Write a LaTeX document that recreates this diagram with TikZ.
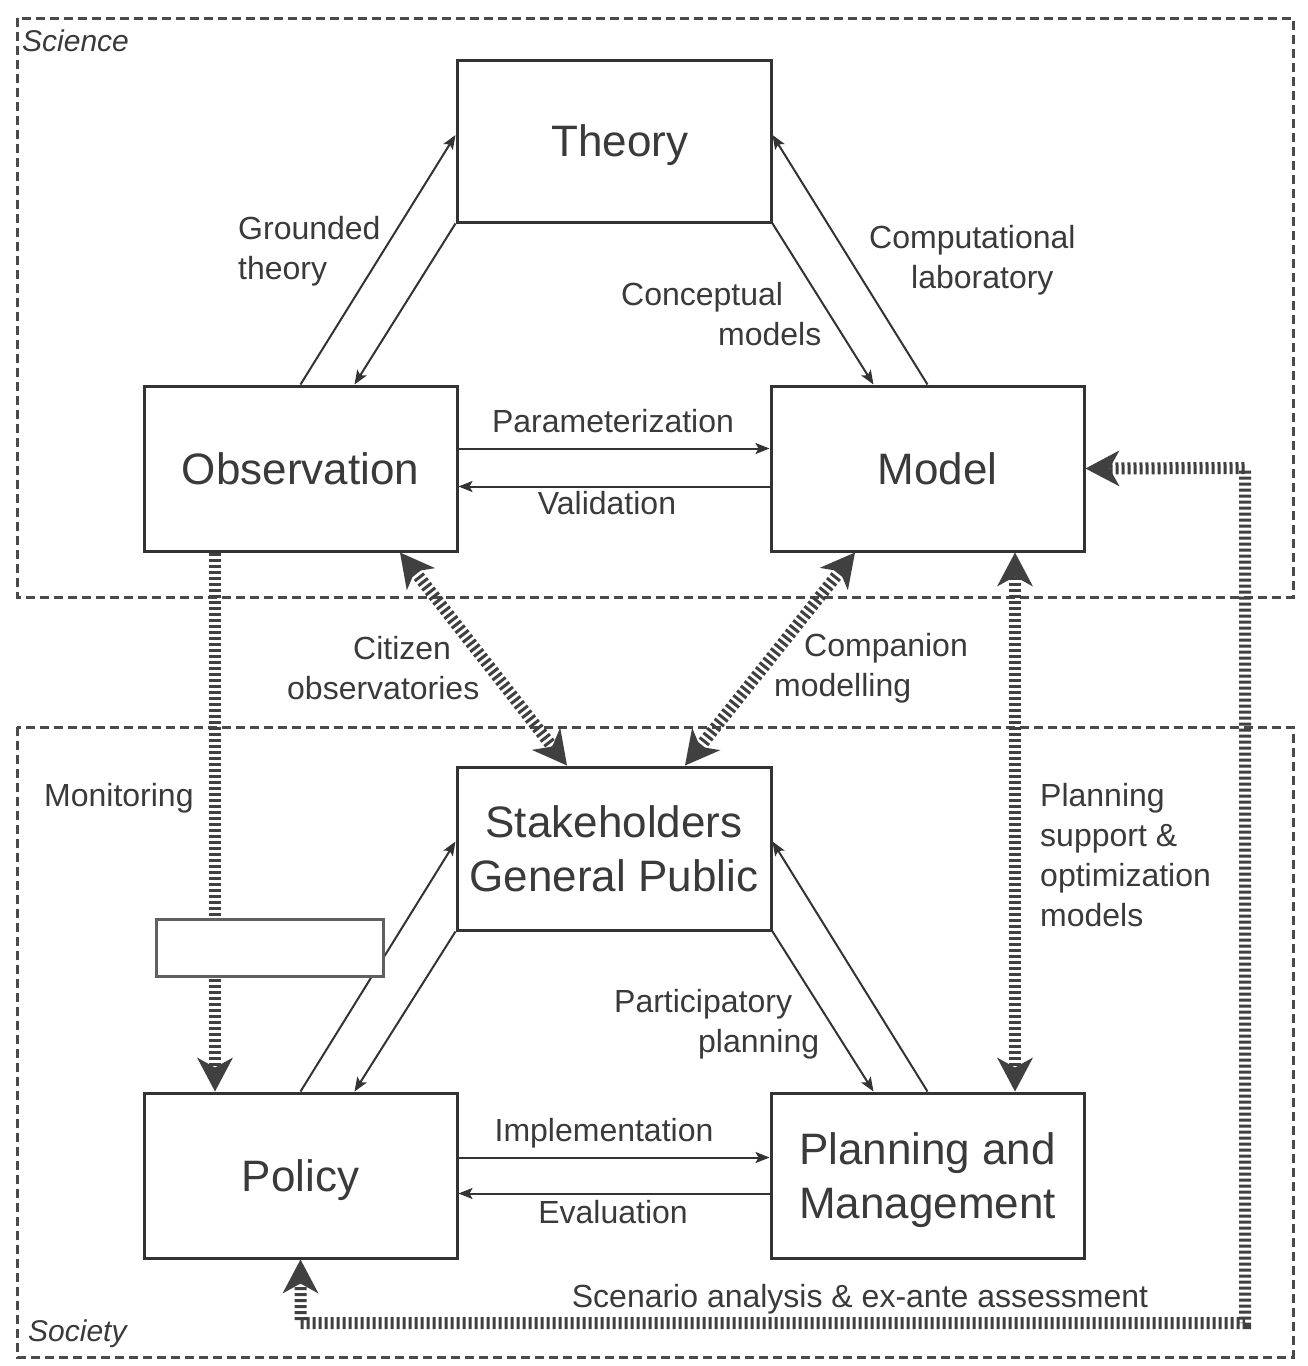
\documentclass[tikz,border=0pt]{standalone}
\usepackage{fontspec}
\setmainfont{Liberation Sans}
\usetikzlibrary{arrows.meta}
\definecolor{ink}{HTML}{333333}
\definecolor{txt}{HTML}{3A3A3A}
\definecolor{hatchc}{HTML}{404040}
\definecolor{framec}{HTML}{4A4A4A}
\definecolor{emptyc}{HTML}{606060}
\begin{document}
\begin{tikzpicture}[x=1pt,y=-1pt,
  box/.style={draw=ink, line width=3pt, fill=white, minimum width=314pt, minimum height=164pt,
    inner sep=0pt, font=\fontsize{44}{54}\selectfont, text=txt, align=center, text depth=0pt},
  lbl/.style={font=\fontsize{32}{40}\selectfont, text=txt, inner sep=0pt, align=left},
  thin/.style={draw=ink, line width=2pt, -{Stealth[length=14pt,width=11pt,inset=3pt]}},
  bigtip/.tip={Stealth[length=34pt,width=36pt,inset=10pt,line width=0pt]},
  hatch/.style={draw=hatchc, line width=12pt, dash pattern=on 3pt off 3pt},
  frame/.style={draw=framec, line width=3pt, dash pattern=on 9pt off 5pt},
  zone/.style={font=\fontsize{30}{36}\selectfont\itshape, text=txt, inner sep=0pt, anchor=north west}]
\useasboundingbox (0,0) rectangle (1308,1366);
\fill[white] (0,0) rectangle (1308,1366);

% zones
\draw[frame] (17,18) rectangle (1293,597);
\draw[frame] (17,727) rectangle (1293,1357);
\node[zone] (sci) at (22,30) {Science};
\node[zone] (soc) at (28,1320) {Society};

% boxes
\node[box, minimum height=162pt] (theory) at (614,141) {\hspace*{12pt}Theory};
\node[box, minimum width=313pt, minimum height=165pt] (obs) at (300.5,468.5) {Observation};
\node[box, minimum width=313pt, minimum height=165pt] (model) at (927.5,468.5) {\hspace*{20pt}Model};
\node[box, minimum height=163pt] (stake) at (614,848.5) {Stakeholders\\General Public};
\node[box, minimum width=313pt, minimum height=165pt] (policy) at (300.5,1175.5) {Policy};
\node[box, minimum width=313pt, minimum height=165pt] (pm) at (927.5,1175.5) {Planning and\\Management};

% thin connectors (science)
\draw[thin] (obs.north) -- ([yshift=6pt]theory.west);
\draw[thin] (theory.south west) -- ([xshift=54pt]obs.north);
\draw[thin] (theory.south east) -- ([xshift=-54pt]model.north);
\draw[thin] (model.north) -- ([yshift=6pt]theory.east);
\draw[thin] ([yshift=20pt]obs.east) -- ([yshift=20pt]model.west);
\draw[thin] ([yshift=-18pt]model.west) -- ([yshift=-18pt]obs.east);

% thin connectors (society)
\draw[thin] (policy.north) -- ([yshift=7pt]stake.west);
\draw[thin] (stake.south west) -- ([xshift=54pt]policy.north);
\draw[thin] (stake.south east) -- ([xshift=-54pt]pm.north);
\draw[thin] (pm.north) -- ([yshift=7pt]stake.east);
\draw[thin] ([yshift=18pt]policy.east) -- ([yshift=18pt]pm.west);
\draw[thin] ([yshift=-18pt]pm.west) -- ([yshift=-18pt]policy.east);

% hatched connectors
\draw[hatch, -{bigtip}] ([xshift=-85.5pt]obs.south) -- ([xshift=-85.5pt]policy.north);
\draw[hatch, {bigtip}-{bigtip}] ([xshift=99.5pt]obs.south) -- ([xshift=-47pt]stake.north);
\draw[hatch, {bigtip}-{bigtip}] ([xshift=-72.5pt]model.south) -- ([xshift=71pt]stake.north);
\draw[hatch, {bigtip}-{bigtip}] ([xshift=87.5pt]model.south) -- ([xshift=87.5pt]pm.north);
\coordinate (sc1) at (1245,468);
\coordinate (sc2) at (1245,1323);
\draw[hatch, {bigtip}-{bigtip}] (model.east) -- (sc1) -- (sc2) -- (sc2 -| policy.south) -- (policy.south);

% blank box over the monitoring arrow
\node[draw=emptyc, line width=3pt, fill=white, minimum width=227pt, minimum height=57pt, inner sep=0pt] (blank) at (269.5,947.5) {};

% labels
\node[lbl, anchor=north west] (lgt) at (238,216) {Grounded\\theory};
\node[lbl, anchor=north west] (lcl) at (869,225) {Computational\\\hspace*{42pt}laboratory};
\node[lbl, anchor=north west] (lcm) at (621,282) {Conceptual\\\hspace*{97pt}models};
\node[lbl, anchor=base] (lpar) at (613,432) {Parameterization};
\node[lbl, anchor=base] (lval) at (607,514) {Validation};
\node[lbl, anchor=north west] (lco) at (287,636) {\hspace*{66pt}Citizen\\observatories};
\node[lbl, anchor=north west] (lcmp) at (774,633) {\hspace*{30pt}Companion\\modelling};
\node[lbl, anchor=base west] (lmon) at (44,806) {Monitoring};
\node[lbl, anchor=north west] (lps) at (1040,783) {Planning\\support \&\\optimization\\models};
\node[lbl, anchor=north west] (lpp) at (614,989) {Participatory\\\hspace*{84pt}planning};
\node[lbl, anchor=base] (limp) at (604,1141) {Implementation};
\node[lbl, anchor=base] (leva) at (613,1223) {Evaluation};
\node[lbl, anchor=base] (lsc) at (860,1307) {Scenario analysis \& ex-ante assessment};
\end{tikzpicture}
\end{document}
